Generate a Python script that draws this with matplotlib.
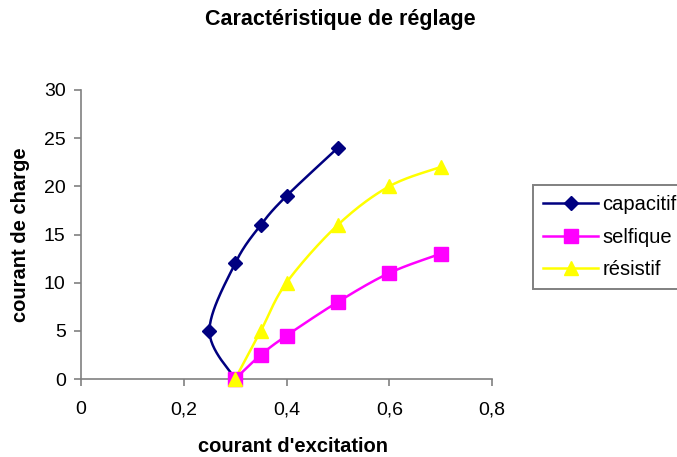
import numpy as np
import matplotlib
matplotlib.use("Agg")
import matplotlib.pyplot as plt
from matplotlib.lines import Line2D

plt.rcParams['font.family'] = ['Liberation Sans', 'DejaVu Sans']

title = "Caractéristique de réglage"
xlabel = "courant d'excitation"
ylabel = "courant de charge"

cap_x = [0.30, 0.25, 0.30, 0.35, 0.40, 0.50]
cap_y = [0, 5, 12, 16, 19, 24]
self_x = [0.30, 0.35, 0.40, 0.50, 0.60, 0.70]
self_y = [0, 2.5, 4.5, 8, 11, 13]
res_x = [0.30, 0.35, 0.40, 0.50, 0.60, 0.70]
res_y = [0, 5, 10, 16, 20, 22]

names = ["capacitif", "selfique", "résistif"]
colors = ["#000080", "#FF00FF", "#FFFF00"]
markers = ["D", "s", "^"]
msizes = [7, 9.5, 9.5]

xticks = [0, 0.2, 0.4, 0.6, 0.8]
xticklabels = ["0", "0,2", "0,4", "0,6", "0,8"]
yticks = [0, 5, 10, 15, 20, 25, 30]


def smooth(xs, ys, n=30):
    P = np.column_stack([xs, ys]).astype(float)
    out = []
    m = len(P)
    t = np.linspace(0, 1, n)[:, None]
    for i in range(m - 1):
        p0 = P[i]
        p3 = P[i + 1]
        pm = P[i - 1] if i > 0 else P[i]
        pp = P[i + 2] if i + 2 < m else P[i + 1]
        c1 = p0 + (p3 - pm) / 6.0
        c2 = p3 - (pp - p0) / 6.0
        seg = ((1 - t) ** 3) * p0 + 3 * ((1 - t) ** 2) * t * c1 + 3 * (1 - t) * t ** 2 * c2 + t ** 3 * p3
        out.append(seg if i == 0 else seg[1:])
    S = np.vstack(out)
    return S[:, 0], S[:, 1]


fig = plt.figure(figsize=(6.77, 4.57), dpi=100)
ax = fig.add_axes([81 / 677, 78 / 457, (492 - 81) / 677, (379 - 90) / 457])

series = [(cap_x, cap_y), (self_x, self_y), (res_x, res_y)]
handles = []
for (xs, ys), name, c, mk, ms in zip(series, names, colors, markers, msizes):
    sx, sy = smooth(xs, ys)
    ax.plot(sx, sy, color=c, lw=1.8, clip_on=False, zorder=3)
    ax.plot(xs, ys, ls='none', marker=mk, ms=ms, color=c, mec=c, clip_on=False, zorder=4)
    handles.append(Line2D([0], [0], color=c, lw=1.8, marker=mk, ms=ms, mec=c))

ax.set_xlim(0, 0.8)
ax.set_ylim(0, 30)
ax.set_xticks(xticks)
ax.set_xticklabels(xticklabels)
ax.set_yticks(yticks)
for s in ['top', 'right']:
    ax.spines[s].set_visible(False)
for s in ['left', 'bottom']:
    ax.spines[s].set_color('#808080')
    ax.spines[s].set_linewidth(1.2)
ax.tick_params(axis='both', direction='out', length=5, width=1.2, color='#808080',
               labelsize=14, labelcolor='black')
ax.tick_params(axis='x', pad=11)
ax.tick_params(axis='y', pad=6)

fig.text(340 / 677, 1 - 19 / 457, title, ha='center', va='center', fontsize=15.5, fontweight='bold')
fig.text(293 / 677, 1 - 446 / 457, xlabel, ha='center', va='center', fontsize=14.5, fontweight='bold')
fig.text(21 / 677, 1 - 235 / 457, ylabel, ha='center', va='center', rotation=90, fontsize=14.5, fontweight='bold')

leg = fig.legend(handles, names, loc='upper left', bbox_to_anchor=(533 / 677, 1 - 185 / 457),
                 frameon=True, fancybox=False, fontsize=14.5, handlelength=2.75,
                 handletextpad=0.2, labelspacing=0.67, borderpad=0.5, borderaxespad=0)
leg.get_frame().set_edgecolor('#606060')
leg.get_frame().set_linewidth(1.4)

fig.savefig("out.png", dpi=100)
